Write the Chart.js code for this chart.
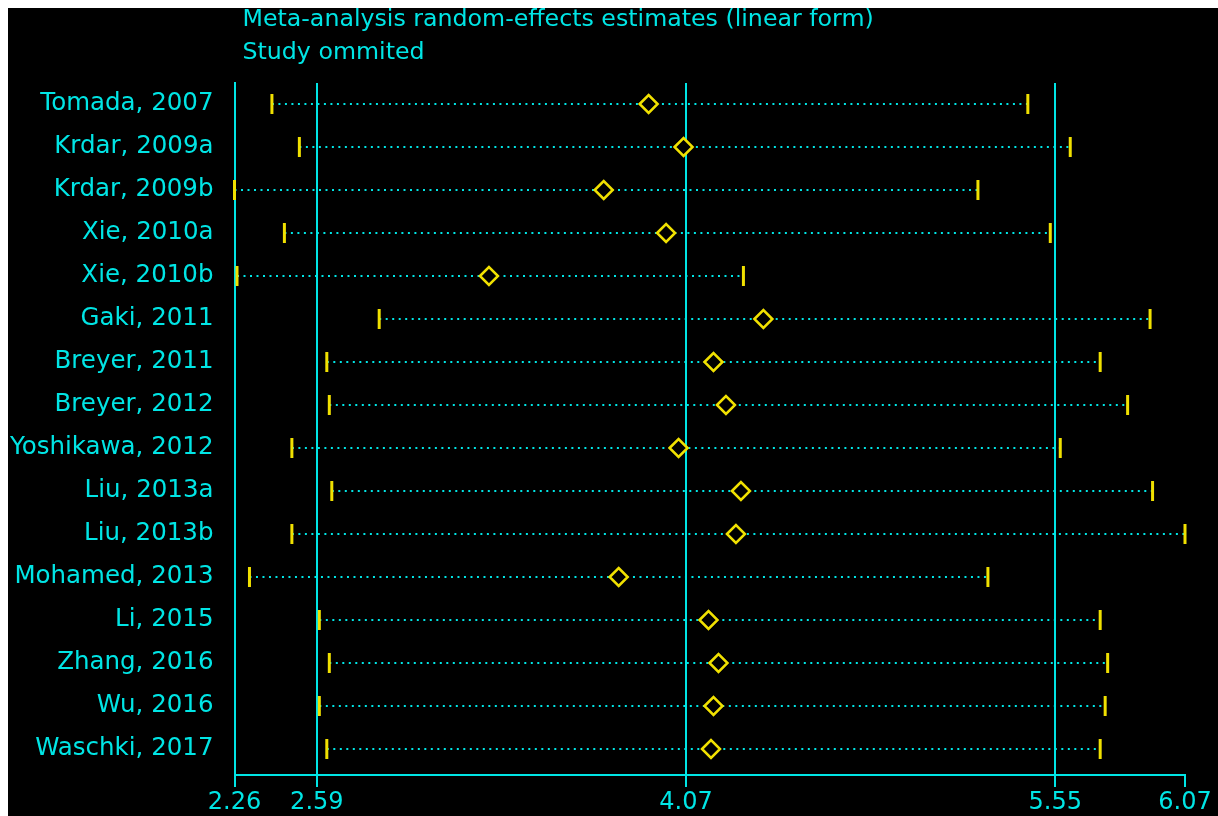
<!DOCTYPE html>
<html>
<head>
<meta charset="utf-8">
<script src="https://cdn.jsdelivr.net/npm/chart.js@4.4.1/dist/chart.umd.min.js"></script>
<style>
    html, body { background: #ffffff; overflow: hidden; }
    body { margin: 8px 0 0 8px; }
    #wrap { width: 1210px; height: 808px; }
</style>
</head>
<body>
<div id="wrap"><canvas id="chartInfluence"></canvas></div>
<script>
/* ------------------------------------------------------------
   Données (étude omise, IC 95 %)
------------------------------------------------------------ */
const titleLines = ["Meta-analysis random-effects estimates (linear form)", "Study ommited"];

const studies = [
    "Tomada, 2007", "Krdar, 2009a", "Krdar, 2009b", "Xie, 2010a", "Xie, 2010b",
    "Gaki, 2011", "Breyer, 2011", "Breyer, 2012", "Yoshikawa, 2012", "Liu, 2013a",
    "Liu, 2013b", "Mohamed, 2013", "Li, 2015", "Zhang, 2016", "Wu, 2016", "Waschki, 2017"
];

const lowerCI  = [2.41, 2.52, 2.26, 2.46, 2.27, 2.84, 2.63, 2.64, 2.49, 2.65, 2.49, 2.32, 2.60, 2.64, 2.60, 2.63];
const estimate = [3.92, 4.06, 3.74, 3.99, 3.28, 4.38, 4.18, 4.23, 4.04, 4.29, 4.27, 3.80, 4.16, 4.20, 4.18, 4.17];
const upperCI  = [5.44, 5.61, 5.24, 5.53, 4.30, 5.93, 5.73, 5.84, 5.57, 5.94, 6.07, 5.28, 5.73, 5.76, 5.75, 5.73];

const tickValues  = [2.26, 2.59, 4.07, 5.55, 6.07];
const guideValues = [2.59, 4.07, 5.55];

const CYAN = "#00e5e5";
const YELLOW = "#f0e000";
const FONT = "'DejaVu Sans', Verdana, sans-serif";

/* ------------------------------------------------------------
   Construction des jeux de données
------------------------------------------------------------ */
const ciEnds = [];
const points = [];

// une ligne pointillée par étude
const ciLines = studies.map((name, i) => ({
    type: "line",
    data: [{ x: lowerCI[i], y: i + 1 }, { x: upperCI[i], y: i + 1 }],
    borderColor: CYAN,
    borderWidth: 2,
    borderDash: [2, 4.5],
    borderCapStyle: "butt",
    pointRadius: 0,
    order: 3
}));

studies.forEach((name, i) => {
    ciEnds.push({ x: lowerCI[i], y: i + 1 }, { x: upperCI[i], y: i + 1 });
    points.push({ x: estimate[i], y: i + 1 });
});

/* fond noir + titres */
const backgroundPlugin = {
    id: "blackBackground",
    beforeDraw(chart) {
        const ctx = chart.ctx;
        ctx.save();
        ctx.fillStyle = "#000000";
        ctx.fillRect(0, 0, chart.width, chart.height);
        ctx.restore();
    },
    afterDraw(chart) {
        const ctx = chart.ctx;
        ctx.save();
        ctx.fillStyle = CYAN;
        ctx.font = "23.7px " + FONT;
        ctx.textAlign = "left";
        ctx.textBaseline = "middle";
        ctx.fillText(titleLines[0], chart.chartArea.left + 8, 12);
        ctx.fillText(titleLines[1], chart.chartArea.left + 8, 45);
        ctx.restore();
    }
};

const ctx = document.getElementById("chartInfluence");

new Chart(ctx, {
    type: "scatter",
    data: {
        datasets: [
            {
                data: points,
                pointStyle: "rectRot",
                radius: 9,
                borderColor: YELLOW,
                backgroundColor: "#000000",
                borderWidth: 2.5,
                order: 1
            },
            {
                data: ciEnds,
                pointStyle: "line",
                rotation: 90,
                radius: 10,
                borderColor: YELLOW,
                borderWidth: 3,
                clip: false,
                order: 2
            },
            ...ciLines
        ]
    },
    options: {
        responsive: true,
        maintainAspectRatio: false,
        animation: false,
        layout: { padding: { top: 75, right: 33, left: 0, bottom: 0 } },
        plugins: {
            legend: { display: false },
            tooltip: { enabled: false },
            title: { display: false }
        },
        scales: {
            x: {
                type: "linear",
                min: 2.26,
                max: 6.07,
                afterBuildTicks: scale => {
                    scale.ticks = tickValues.map(v => ({ value: v }));
                },
                afterFit: scale => { scale.height = 41; },
                ticks: {
                    color: CYAN,
                    padding: 1,
                    font: { family: FONT, size: 24 },
                    callback: v => v.toFixed(2),
                    maxRotation: 0,
                    autoSkip: false
                },
                grid: {
                    color: c => guideValues.includes(c.tick && c.tick.value) ? CYAN : "rgba(0,0,0,0)",
                    tickColor: CYAN,
                    lineWidth: 2,
                    tickLength: 12
                },
                border: { color: CYAN, width: 2 }
            },
            y: {
                type: "linear",
                reverse: true,
                min: 0.5116,
                max: 16.6047,
                afterBuildTicks: scale => {
                    scale.ticks = studies.map((s, i) => ({ value: i + 1 }));
                },
                afterFit: scale => { scale.width = 226.5; },
                ticks: {
                    color: CYAN,
                    padding: 21,
                    font: { family: FONT, size: 24.5 },
                    callback: v => studies[v - 1],
                    autoSkip: false
                },
                grid: { display: false, drawTicks: false },
                border: { color: CYAN, width: 2 }
            }
        }
    },
    plugins: [backgroundPlugin]
});
</script>
</body>
</html>
